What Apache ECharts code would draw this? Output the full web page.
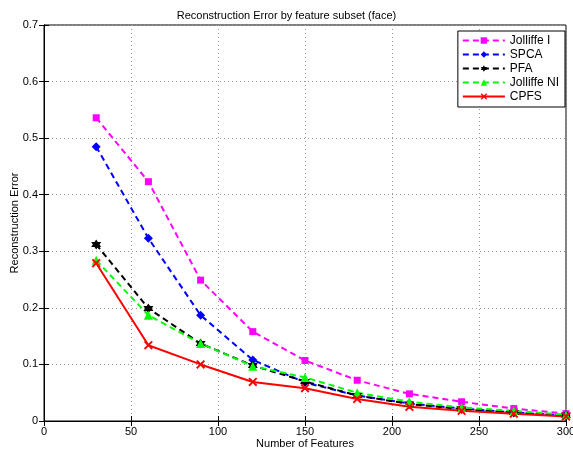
<!DOCTYPE html>
<html>
<head>
<meta charset="utf-8">
<script src="https://cdn.jsdelivr.net/npm/echarts@6/dist/echarts.min.js"></script>
<style>
html, body { margin: 0; padding: 0; background: #fff; }
#main { width: 573px; height: 456px; }
</style>
</head>
<body>
<div id="main"></div>
<script>
var features = [30, 60, 90, 120, 150, 180, 210, 240, 270, 300];
var jolliffeI = [0.536, 0.423, 0.249, 0.158, 0.107, 0.072, 0.048, 0.034, 0.022, 0.013];
var spca = [0.485, 0.323, 0.187, 0.108, 0.068, 0.045, 0.031, 0.022, 0.015, 0.010];
var pfa = [0.312, 0.199, 0.137, 0.098, 0.070, 0.045, 0.030, 0.021, 0.015, 0.010];
var jolliffeNI = [0.284, 0.187, 0.137, 0.097, 0.077, 0.050, 0.034, 0.024, 0.018, 0.011];
var cpfs = [0.279, 0.134, 0.100, 0.069, 0.058, 0.039, 0.025, 0.018, 0.013, 0.008];

var font = 'Liberation Sans, Arial, Helvetica, sans-serif';
var starPath = 'path://M0,-10 L2.9,-5 L8.66,-5 L5.8,0 L8.66,5 L2.9,5 L0,10 L-2.9,5 L-8.66,5 L-5.8,0 L-8.66,-5 L-2.9,-5 Z';
var crossPath = 'path://M-10,-7 L-7,-10 L0,-3 L7,-10 L10,-7 L3,0 L10,7 L7,10 L0,3 L-7,10 L-10,7 L-3,0 Z';

function pairs(vals) {
    return vals.map(function(v, i) { return [features[i], v]; });
}

function makeSeries(name, vals, color, symbol, size, dashed) {
    return {
        name: name,
        type: 'line',
        data: pairs(vals),
        symbol: symbol,
        symbolSize: size,
        showAllSymbol: true,
        animation: false,
        lineStyle: { color: color, width: 2, type: dashed ? [6, 4] : 'solid' },
        itemStyle: { color: color, borderWidth: 0 }
    };
}

var chart = echarts.init(document.getElementById('main'));
chart.setOption({
    animation: false,
    title: {
        text: 'Reconstruction Error by feature subset (face)',
        left: 'center',
        top: 5,
        textStyle: { fontFamily: font, fontSize: 11, fontWeight: 'normal', color: '#000' }
    },
    grid: {
        left: 44, right: 7, top: 25, bottom: 35,
        containLabel: false, outerBoundsMode: 'none',
        show: true, borderColor: '#000', borderWidth: 1
    },
    legend: {
        orient: 'vertical',
        right: 8,
        top: 31,
        itemWidth: 42,
        itemHeight: 8,
        itemGap: 1,
        padding: [3, 6, 4, 4],
        borderColor: '#000',
        borderWidth: 1,
        backgroundColor: '#fff',
        textStyle: { fontFamily: font, fontSize: 12, color: '#000', lineHeight: 13 },
        data: ['Jolliffe I', 'SPCA', 'PFA', 'Jolliffe NI', 'CPFS']
    },
    xAxis: [{
        type: 'value', min: 0, max: 300, interval: 50,
        name: 'Number of Features', nameLocation: 'middle', nameGap: 17, nameMoveOverlap: false,
        nameTextStyle: { fontFamily: font, fontSize: 11, color: '#000' },
        axisLine: { lineStyle: { color: '#000' } },
        axisTick: { inside: true, length: 5, lineStyle: { color: '#000' } },
        axisLabel: { fontFamily: font, fontSize: 11, color: '#000', margin: 5 },
        splitLine: { show: true, lineStyle: { color: '#999', type: [1, 3] } }
    }, {
        type: 'value', min: 0, max: 300, interval: 50, position: 'top',
        axisLine: { lineStyle: { color: '#000' } },
        axisTick: { inside: true, length: 5, lineStyle: { color: '#000' } },
        axisLabel: { show: false },
        splitLine: { show: false }
    }],
    yAxis: [{
        type: 'value', min: 0, max: 0.7, interval: 0.1,
        name: 'Reconstruction Error', nameLocation: 'middle', nameGap: 24, nameMoveOverlap: false,
        nameTextStyle: { fontFamily: font, fontSize: 11, color: '#000' },
        axisLine: { show: true, lineStyle: { color: '#000' } },
        axisTick: { show: true, inside: true, length: 5, lineStyle: { color: '#000' } },
        axisLabel: { fontFamily: font, fontSize: 11, color: '#000', margin: 6 },
        splitLine: { show: true, lineStyle: { color: '#999', type: [1, 3] } }
    }, {
        type: 'value', min: 0, max: 0.7, interval: 0.1, position: 'right',
        axisLine: { show: true, lineStyle: { color: '#000' } },
        axisTick: { show: true, inside: true, length: 5, lineStyle: { color: '#000' } },
        axisLabel: { show: false },
        splitLine: { show: false }
    }],
    series: [
        makeSeries('Jolliffe I', jolliffeI, '#ff00ff', 'rect', 7, true),
        makeSeries('SPCA', spca, '#0000ff', 'diamond', 9, true),
        makeSeries('PFA', pfa, '#000000', starPath, 10, true),
        makeSeries('Jolliffe NI', jolliffeNI, '#00ff00', 'triangle', 9, true),
        makeSeries('CPFS', cpfs, '#ff0000', crossPath, 9, false)
    ]
});
</script>
</body>
</html>
